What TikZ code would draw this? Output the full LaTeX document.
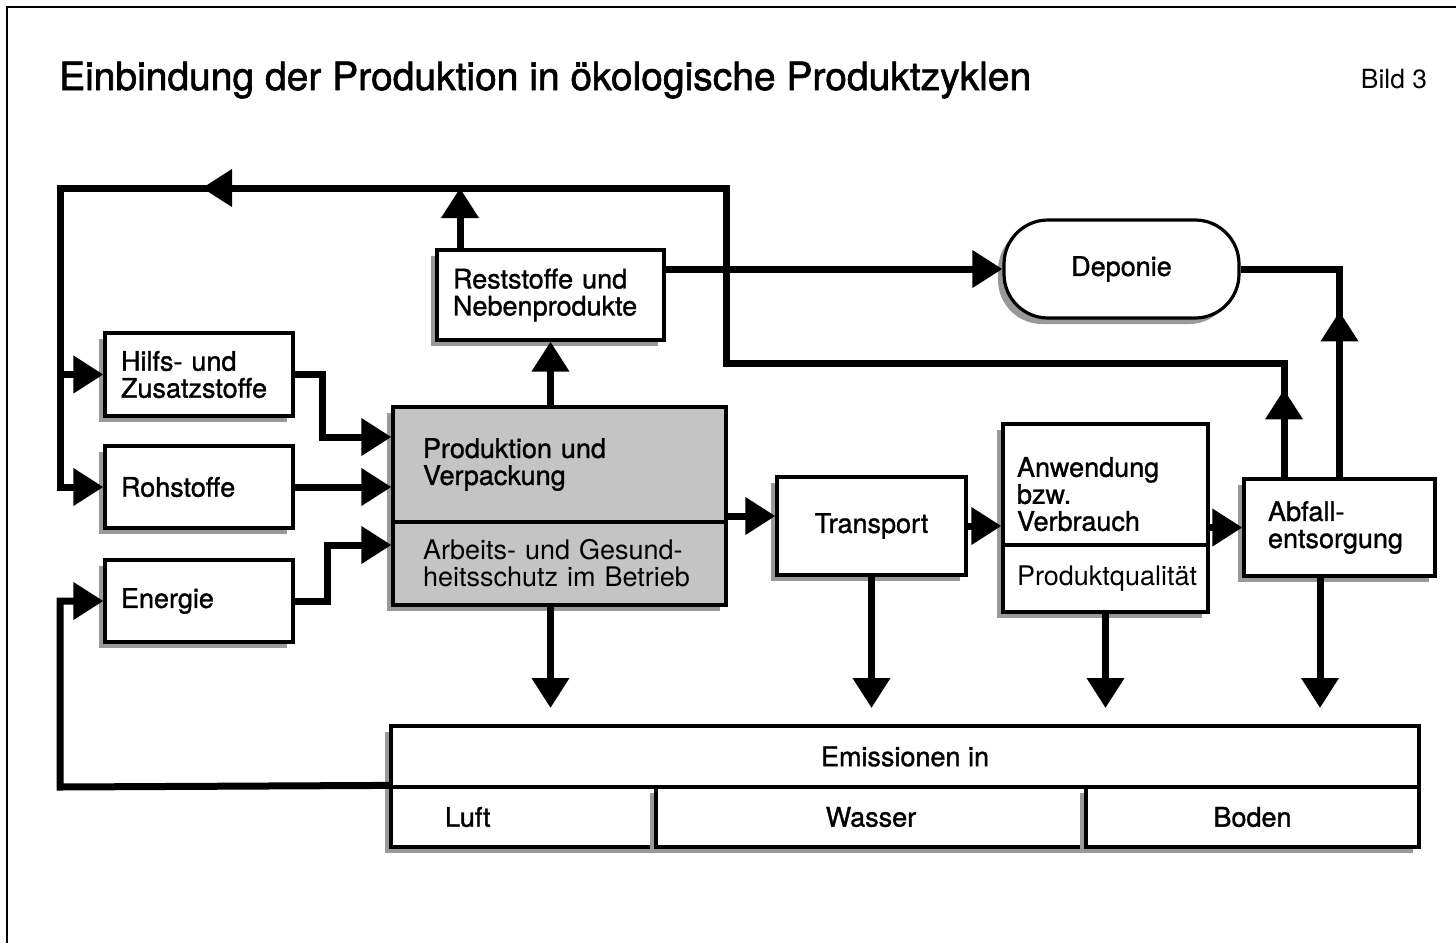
\documentclass[tikz,border=0pt]{standalone}
\usepackage{fontspec}
\setmainfont{TeX Gyre Heros}
\newfontfamily\medfont{TeX Gyre Heros}[FakeBold=1.2]
\newfontfamily\headfont{TeX Gyre Heros}[FakeBold=1.6]
\usepackage{tikz}
\usetikzlibrary{arrows.meta,shadows,calc}

\begin{document}
\begin{tikzpicture}[x=0.5pt,y=-0.5pt,
  every node/.style={font=\medfont\fontsize{13.5}{13.5}\selectfont},
  box/.style={draw,line width=1.6pt,fill=white,inner ysep=0pt,
    drop shadow={shadow xshift=-3pt,shadow yshift=-3pt,fill=black!40,opacity=1}},
  lbox/.style={box,align=left,inner xsep=8pt},
  cbox/.style={box,align=center},
  lin/.style={line width=3.5pt},
  arr/.style={line width=3.5pt,-{Triangle[length=15pt,width=18pt]}}]
\useasboundingbox (0,0) rectangle (1456,943);
\draw[line width=1pt] (7,943) -- (7,7) -- (1456,7);
\node[anchor=base west,font=\headfont\fontsize{19.5}{19.5}\selectfont] (title) at (52,90) {Einbindung der Produktion in ökologische Produktzyklen};
\node[anchor=base east,font=\rmfamily\fontsize{13.2}{13.2}\selectfont] (bild) at (1434,88) {Bild 3};
% Eingaenge
\node at (199,374.5) [lbox,text width=78pt,minimum height=41.5pt] (hilfs) {Hilfs- und\\Zusatzstoffe};
\node at (199,487) [lbox,text width=78pt,minimum height=41pt] (rohst) {Rohstoffe};
\node at (199,601) [lbox,text width=78pt,minimum height=41pt] (energie) {Energie};
% Produktion
\node at (559.5,464.5) [lbox,fill=black!23,inner xsep=15pt,text width=136.5pt,minimum height=57.5pt] (prod) {Produktion und\\Verpackung};
\node at (559.5,563.5) [lbox,fill=black!23,inner xsep=15pt,text width=136.5pt,minimum height=41.5pt,font=\rmfamily\fontsize{13.5}{13.5}\selectfont] (arbeit) {Arbeits- und Gesund-\\heitsschutz im Betrieb};
\node at (550.5,295) [lbox,text width=97.5pt,minimum height=45pt] (rest) {Reststoffe und\\Nebenprodukte};
\node at (1121.5,269) [cbox,rounded corners=22pt,minimum width=117.5pt,minimum height=49pt] (depo) {Deponie};
\node at (871.5,526) [cbox,minimum width=94.5pt,minimum height=49pt] (trans) {Transport};
\node at (1105.5,484.5) [lbox,inner xsep=7pt,text width=88.5pt,text height=19.5pt,minimum height=60.5pt] (anw) {Anwendung\\bzw.\\Verbrauch};
\node at (1105.5,578.5) [lbox,inner xsep=7pt,text width=88.5pt,minimum height=33.5pt,font=\rmfamily\fontsize{13.5}{13.5}\selectfont] (qual) {Produktqualität};
\node at (1339.5,527.5) [lbox,inner xsep=12pt,text width=71.5pt,minimum height=48.5pt] (abfall) {Abfall-\\entsorgung};
% Emissionen
\node at (905,756.5) [cbox,minimum width=514pt,minimum height=30.5pt] (emis) {Emissionen in};
\node at (523.5,817) [lbox,inner xsep=27pt,text width=78.5pt,minimum height=30pt] (luft) {Luft};
\node at (871,817) [cbox,minimum width=215pt,minimum height=30pt] (wasser) {Wasser};
\node at (1252.5,817) [cbox,minimum width=166.5pt,minimum height=30pt] (boden) {Boden};

\coordinate (r1) at (1284,363);
\coordinate (r2) at (726,363);
\coordinate (r3) at (726,188);
\coordinate (r4) at (60,188);
\coordinate (r5) at (460,188);
\coordinate (low) at (60,787);
\coordinate (h1) at (322,437);
\coordinate (e1) at (327,545);
\coordinate (t1) at (726,516);
\coordinate (tip) at (0,708);
\coordinate (d4) at (1320,708);

% Rueckfuehrung
\draw[arr] (abfall.north -| r1) -- (r1) -- (r2) -- (r3) -- (r4) |- (rohst.west);
\draw[arr] (r4 |- hilfs.west) -- (hilfs.west);
\draw[arr] (abfall.north -| r1) -- ++(0,-88);
\draw[arr] (r3) -- ++(-524,0);
\draw[arr] (r5 |- rest.north) -- (r5);
\draw[arr] (luft.north west) -- (low) |- (energie.west);
% Zufluss
\draw[arr] (hilfs.east) -| (h1) -- (h1 -| prod.west);
\draw[arr] (rohst.east) -- (rohst.east -| prod.west);
\draw[arr] (energie.east) -| (e1) -- (e1 -| prod.west);
\draw[arr] (prod.north -| rest.south) -- (rest.south);
\draw[arr] (rest.east |- depo.west) -- (depo.west);
\draw[lin] (abfall.north) |- (depo.east);
\draw[arr] (abfall.north) -- ++(0,-166);
% Kette
\draw[arr] (t1) -- (t1 -| trans.west);
\draw[arr] (trans.east) -- (trans.east -| anw.west);
\draw[arr] (anw.east |- abfall.west) -- (abfall.west);
% nach unten
\draw[arr] (arbeit.south -| rest.south) -- (tip -| rest.south);
\draw[arr] (trans.south) -- (trans.south |- tip);
\draw[arr] (qual.south) -- (qual.south |- tip);
\draw[arr] (abfall.south -| d4) -- (d4);
\end{tikzpicture}
\end{document}
